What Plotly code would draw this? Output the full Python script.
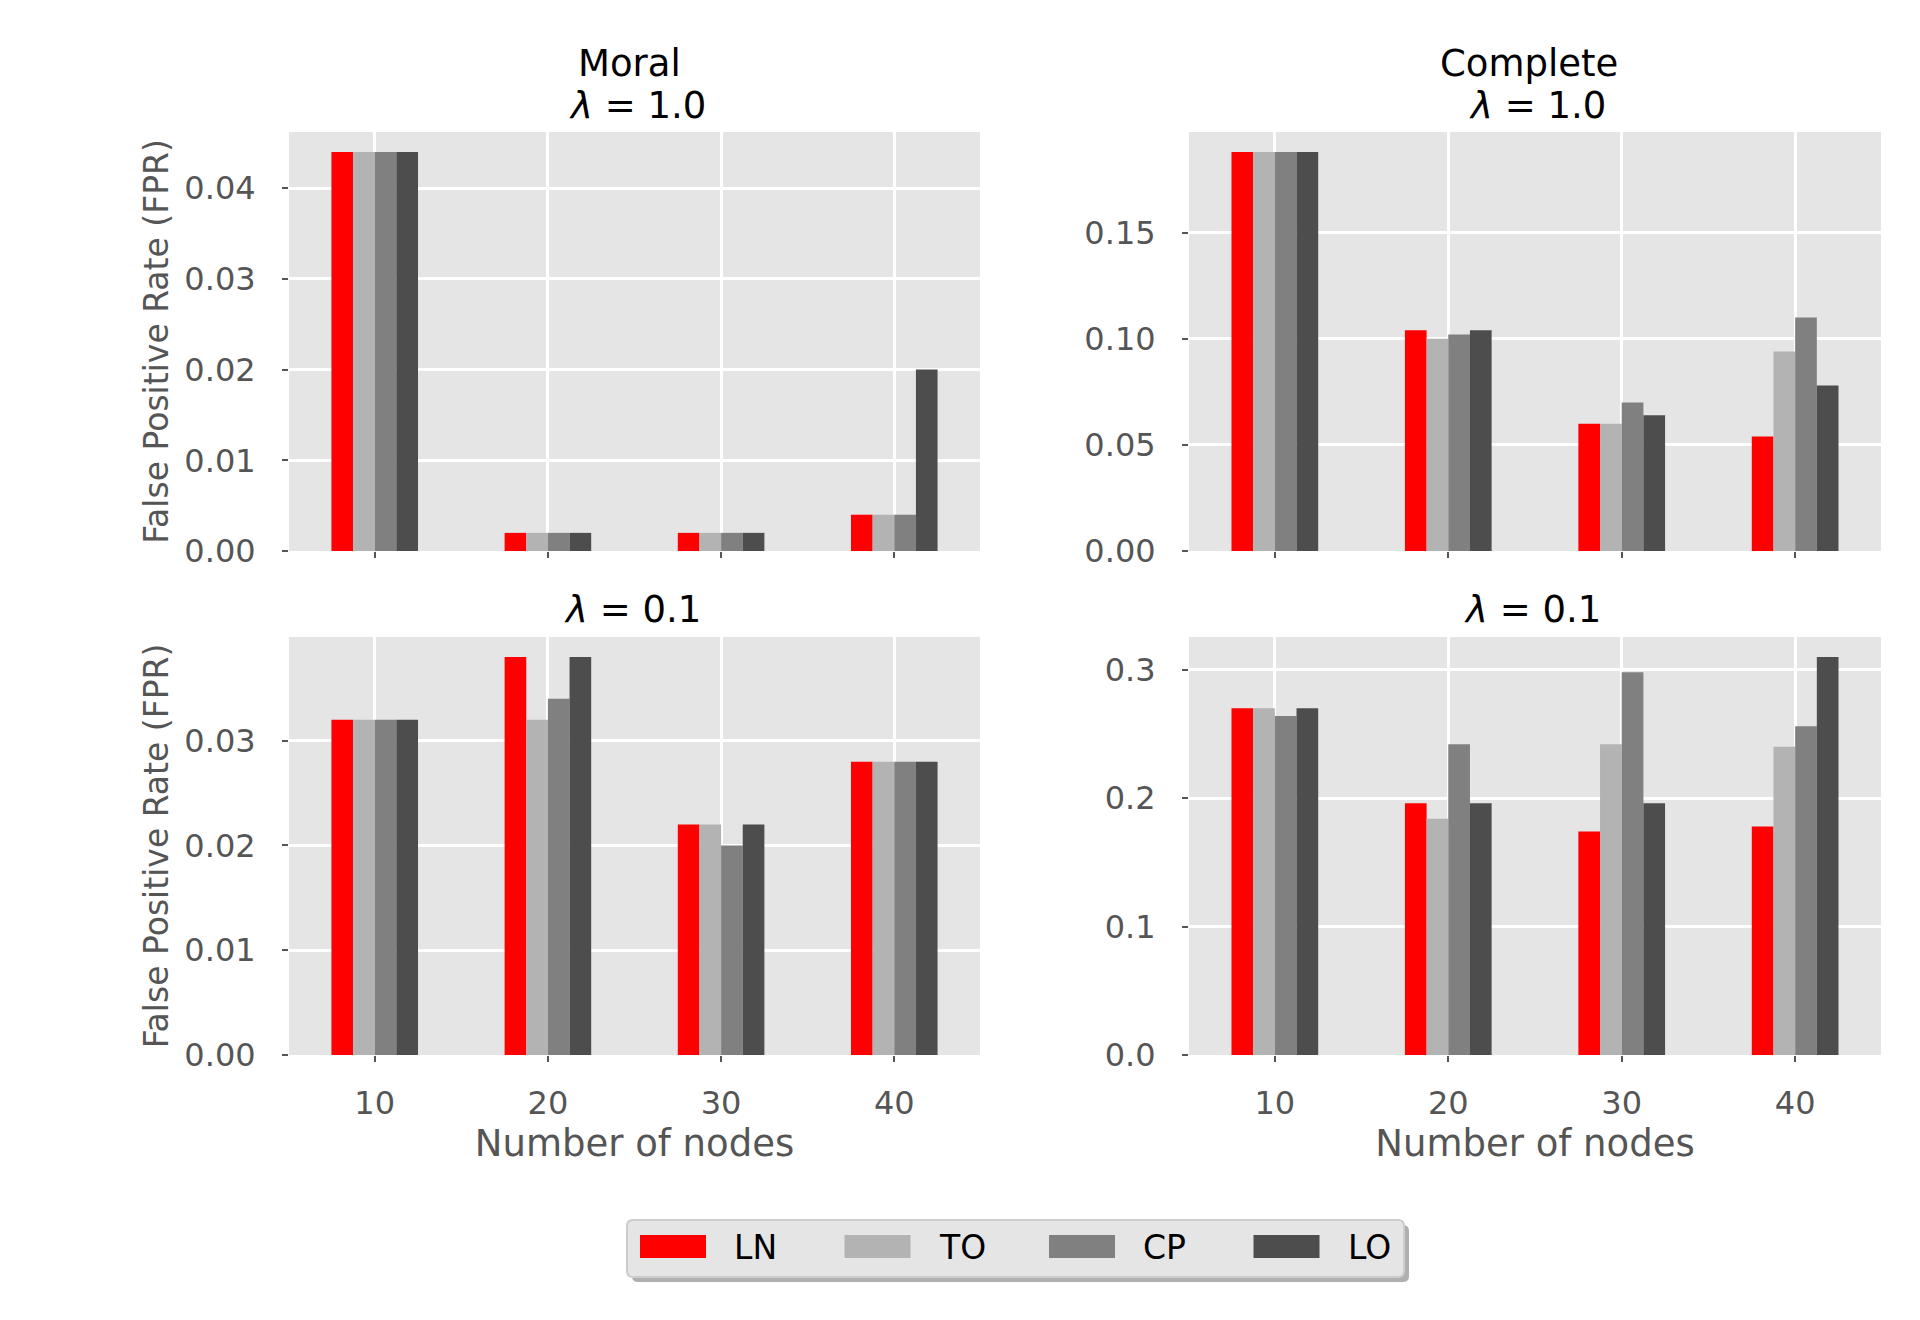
import plotly.graph_objects as go

# ---------------- data ----------------
nodes = [10, 20, 30, 40]
methods = ["LN", "TO", "CP", "LO"]

# Moral, lambda = 1.0
moral_lam1 = {
    "LN": [0.044, 0.002, 0.002, 0.004],
    "TO": [0.044, 0.002, 0.002, 0.004],
    "CP": [0.044, 0.002, 0.002, 0.004],
    "LO": [0.044, 0.002, 0.002, 0.020],
}
# Complete, lambda = 1.0
complete_lam1 = {
    "LN": [0.188, 0.104, 0.060, 0.054],
    "TO": [0.188, 0.100, 0.060, 0.094],
    "CP": [0.188, 0.102, 0.070, 0.110],
    "LO": [0.188, 0.104, 0.064, 0.078],
}
# Moral, lambda = 0.1
moral_lam01 = {
    "LN": [0.032, 0.038, 0.022, 0.028],
    "TO": [0.032, 0.032, 0.022, 0.028],
    "CP": [0.032, 0.034, 0.020, 0.028],
    "LO": [0.032, 0.038, 0.022, 0.028],
}
# Complete, lambda = 0.1
complete_lam01 = {
    "LN": [0.270, 0.196, 0.174, 0.178],
    "TO": [0.270, 0.184, 0.242, 0.240],
    "CP": [0.264, 0.242, 0.298, 0.256],
    "LO": [0.270, 0.196, 0.196, 0.310],
}

moral_ticks_top = [0.0, 0.01, 0.02, 0.03, 0.04]
complete_ticks_top = [0.0, 0.05, 0.10, 0.15]
moral_ticks_bottom = [0.0, 0.01, 0.02, 0.03]
complete_ticks_bottom = [0.0, 0.1, 0.2, 0.3]

# ---------------- styling ----------------
colors = {"LN": "#ff0000", "TO": "#b3b3b3", "CP": "#808080", "LO": "#4d4d4d"}
FONT = "DejaVu Sans"
GRAY = "#555555"
BAR_W = 1.25

W, H = 1920, 1320
def px_x(p):
    return p / W
def px_y(p):
    return 1 - p / H

dom_left = [px_x(289), px_x(980)]
dom_right = [px_x(1189), px_x(1881)]
dom_top = [px_y(551), px_y(132)]
dom_bot = [px_y(1055), px_y(637)]

panels = [
    (moral_lam1, "x", "y", dom_left, dom_top, moral_ticks_top, ".2f", 0.044),
    (complete_lam1, "x2", "y2", dom_right, dom_top, complete_ticks_top, ".2f", 0.188),
    (moral_lam01, "x3", "y3", dom_left, dom_bot, moral_ticks_bottom, ".2f", 0.038),
    (complete_lam01, "x4", "y4", dom_right, dom_bot, complete_ticks_bottom, ".1f", 0.310),
]

fig = go.Figure()
layout = dict(
    width=W, height=H,
    margin=dict(l=0, r=0, t=0, b=0),
    paper_bgcolor="white",
    plot_bgcolor="#e5e5e5",
    font=dict(family=FONT, size=32, color=GRAY),
    barmode="overlay",
    showlegend=False,
)

for k, (data, xa, ya, xd, yd, yt, fmt, ymax) in enumerate(panels):
    for i, m in enumerate(methods):
        fig.add_trace(go.Bar(
            x=nodes, y=data[m], xaxis=xa, yaxis=ya,
            width=BAR_W, offset=-2 * BAR_W + i * BAR_W,
            marker=dict(color=colors[m], line=dict(width=0)),
            name=m, showlegend=False,
        ))
    xkey = "xaxis" if xa == "x" else "xaxis" + xa[1:]
    ykey = "yaxis" if ya == "y" else "yaxis" + ya[1:]
    bottom = k >= 2
    left = k % 2 == 0
    layout[xkey] = dict(
        domain=xd, anchor=ya, range=[5.05, 44.95],
        tickmode="array", tickvals=nodes, ticktext=[str(n) for n in nodes],
        showticklabels=bottom, ticks="outside", ticklen=6, tickwidth=2,
        tickcolor=GRAY, showgrid=True, gridcolor="white", gridwidth=3,
        zeroline=False, showline=False, automargin=False,
        tickfont=dict(size=32, color=GRAY), ticklabelstandoff=14,
        title=dict(text="Number of nodes" if bottom else "",
                   font=dict(size=37, color=GRAY), standoff=6),
    )
    layout[ykey] = dict(
        domain=yd, anchor=xa, range=[0, ymax * 1.05],
        tickmode="array", tickvals=yt, tickformat=fmt,
        ticks="outside", ticklen=6, tickwidth=2, tickcolor=GRAY,
        showgrid=True, gridcolor="white", gridwidth=3,
        zeroline=False, showline=False, automargin=False,
        tickfont=dict(size=32, color=GRAY), ticklabelstandoff=20,
        title=dict(text="False Positive Rate (FPR)" if left else "",
                   font=dict(size=33, color=GRAY), standoff=5),
    )

annotations = []
shapes = []

def text(t, xc, yc, size=37, anchor="center", color="black"):
    annotations.append(dict(text=t, x=px_x(xc), y=px_y(yc), xref="paper", yref="paper",
                            showarrow=False, xanchor=anchor, yanchor="middle",
                            font=dict(size=size, color=color, family=FONT)))

# subplot titles
text("Moral", 629, 64)
text("<i>λ</i> = 1.0", 637, 105)
text("Complete", 1529, 64)
text("<i>λ</i> = 1.0", 1537, 105)
text("<i>λ</i> = 0.1", 632, 609)
text("<i>λ</i> = 0.1", 1532, 609)

# ---- legend (box with shadow, patches and labels) ----
def rounded_rect(x0, y0, x1, y1, r=6):
    # pixel coords (y down) -> paper path
    X = lambda p: px_x(p)
    Y = lambda p: px_y(p)
    return (f"M {X(x0 + r)},{Y(y0)} L {X(x1 - r)},{Y(y0)} Q {X(x1)},{Y(y0)} {X(x1)},{Y(y0 + r)} "
            f"L {X(x1)},{Y(y1 - r)} Q {X(x1)},{Y(y1)} {X(x1 - r)},{Y(y1)} "
            f"L {X(x0 + r)},{Y(y1)} Q {X(x0)},{Y(y1)} {X(x0)},{Y(y1 - r)} "
            f"L {X(x0)},{Y(y0 + r)} Q {X(x0)},{Y(y0)} {X(x0 + r)},{Y(y0)} Z")

LX0, LY0, LX1, LY1 = 627, 1220, 1404, 1277
shapes.append(dict(type="path", xref="paper", yref="paper",
                   path=rounded_rect(LX0 + 5, LY0 + 5, LX1 + 5, LY1 + 5),
                   fillcolor="#b0b0b0", line=dict(width=0), layer="above"))
shapes.append(dict(type="path", xref="paper", yref="paper",
                   path=rounded_rect(LX0, LY0, LX1, LY1),
                   fillcolor="#e5e5e5", line=dict(color="#cccccc", width=2), layer="above"))
ENTRY_X0 = 640
ENTRY_STEP = 204.5
for i, m in enumerate(methods):
    x0 = ENTRY_X0 + i * ENTRY_STEP
    shapes.append(dict(type="rect", xref="paper", yref="paper",
                       x0=px_x(x0), x1=px_x(x0 + 66), y0=px_y(1258), y1=px_y(1235),
                       fillcolor=colors[m], line=dict(width=0), layer="above"))
    text(m, x0 + 92, 1247, size=33, anchor="left")

layout["annotations"] = annotations
layout["shapes"] = shapes

fig.update_layout(**layout)
fig.write_html("out.html")
